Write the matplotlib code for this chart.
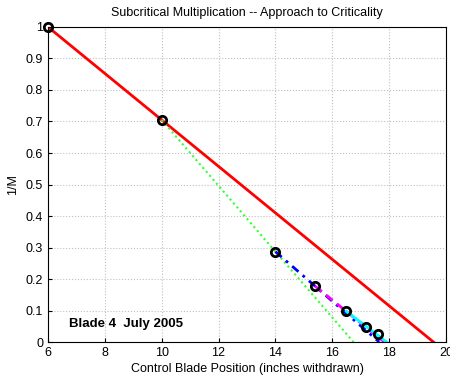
import matplotlib
matplotlib.use("Agg")
import matplotlib.pyplot as plt
import numpy as np

plt.rcParams['font.family'] = ['Liberation Sans', 'DejaVu Sans']

position = [6, 10, 14, 15.4, 16.5, 17.2, 17.6]
inv_m = [1.0, 0.705, 0.287, 0.177, 0.097, 0.049, 0.026]

# extrapolation line styles, one per consecutive pair of points
line_styles = [((0, ()), 'red', 2.0),
               ((0, (1, 1.5)), '#33ff33', 1.5),
               ((0, (3, 2, 1, 2)), 'blue', 2.0),
               ((0, (3, 2)), 'magenta', 2.0),
               ((0, ()), 'cyan', 2.0)]

fig = plt.figure(figsize=(4.5, 3.77), dpi=100)
ax = fig.add_axes([0.1067, 0.0928, 0.8843, 0.8356])

for i, (ls, c, lw) in enumerate(line_styles):
    x0, y0 = position[i], inv_m[i]
    x1, y1 = position[i + 1], inv_m[i + 1]
    slope = (y1 - y0) / (x1 - x0)
    xz = x0 - y0 / slope
    ln, = ax.plot([x0, xz], [y0, 0], color=c, linewidth=lw)
    if ls[1]:
        ln.set_dashes(ls[1])

ax.plot(position, inv_m, 'o', markerfacecolor='none', markeredgecolor='black',
        markeredgewidth=2, markersize=6, clip_on=False, zorder=5)

ax.set_xlim(6, 20)
ax.set_ylim(0, 1)
ax.set_xticks(range(6, 21, 2))
yt = [round(0.1 * k, 1) for k in range(11)]
ax.set_yticks(yt)
ax.set_yticklabels(['0' if v == 0 else ('1' if v == 1 else f'{v:g}') for v in yt])
ax.tick_params(direction='in', labelsize=9, length=3)
ax.grid(True, linestyle=':', color='#c0c0c0', linewidth=0.8)
ax.set_axisbelow(True)
ax.set_xlabel('Control Blade Position (inches withdrawn)', fontsize=9, labelpad=3)
ax.set_ylabel('1/M', fontsize=9, labelpad=5)
ax.set_title('Subcritical Multiplication -- Approach to Criticality', fontsize=9, pad=8)
ax.text(6.75, 0.058, 'Blade 4  July 2005', fontsize=9.5, fontweight='bold', va='center')

fig.savefig('out.png', dpi=100)
